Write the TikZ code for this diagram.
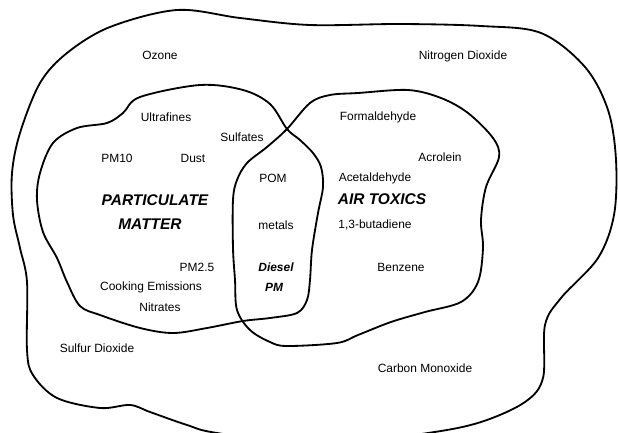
\documentclass[tikz,border=0pt]{standalone}
\usepackage{fontspec}
\setmainfont{Liberation Sans}
\usepackage{tikz}

\begin{document}
\begin{tikzpicture}[x=0.025cm,y=-0.025cm,line join=round,
  blob/.style={line width=1.3pt,black},
  lbl/.style={font=\fontsize{8.5}{10}\selectfont,inner sep=0pt},
  big/.style={font=\fontsize{11}{13}\selectfont\bfseries\itshape,inner sep=0pt},
  dpm/.style={font=\fontsize{8.5}{10}\selectfont\bfseries\itshape,inner sep=0pt}]
\useasboundingbox (0,0) rectangle (618,433);
% outer region
\draw[blob] plot[smooth cycle,tension=0.55] coordinates {
  (177,10) (240,18) (310,25) (400,24) (481,26) (541,33) (585,67) (608,110)
  (616,160) (614,215) (598,258) (561,298) (545,325) (543,378) (525,402)
  (481,422) (428,433) (320,446) (217,433) (187,425) (150,412) (130,405)
  (100,408) (57,398) (33,375) (27,350) (27,282) (20,248) (13,215) (12,173)
  (20,133) (40,83) (67,53) (110,27)};
% particulate matter
\draw[blob] plot[smooth cycle,tension=0.55] coordinates {
  (200,85) (243,90) (270,104) (287,129) (300,140) (313,153) (321,167)
  (323,187) (318,213) (312,250) (310,280) (307,300) (297,313) (270,318)
  (243,321) (207,328) (173,333) (140,328) (100,315) (80,306) (67,282)
  (57,258) (43,232) (37,200) (40,173) (53,143) (77,128) (107,123)
  (123,113) (140,97)};
% air toxics
\draw[blob] plot[smooth cycle,tension=0.55] coordinates {
  (287,129) (310,103) (330,95) (358,93) (408,90) (441,98) (468,113)
  (493,138) (499,157) (486,187) (481,220) (483,248) (478,282) (461,302)
  (425,312) (391,322) (358,335) (337,343) (287,346) (270,342) (250,330)
  (237,310) (235,280) (233,248) (233,200) (237,180) (247,163) (267,147)};
% labels
\node[lbl] (ozone) at (160,55) {Ozone};
\node[lbl] (no2) at (463,56) {Nitrogen Dioxide};
\node[lbl] (ultra) at (166,117) {Ultrafines};
\node[lbl] (sulf) at (242,137) {Sulfates};
\node[lbl] (pm10) at (117,158) {PM10};
\node[lbl] (dust) at (193,158) {Dust};
\node[lbl] (pom) at (273,178) {POM};
\node[big] (partic) at (155,200) {PARTICULATE};
\node[big] (matter) at (150,224) {MATTER};
\node[lbl] (metals) at (276,225) {metals};
\node[lbl] (pm25) at (197,267) {PM2.5};
\node[dpm] (diesel) at (276,267) {Diesel};
\node[lbl] (cook) at (151,287) {Cooking Emissions};
\node[dpm] (dpm) at (274,287) {PM};
\node[lbl] (nitr) at (160,307) {Nitrates};
\node[lbl] (so2) at (97,348) {Sulfur Dioxide};
\node[lbl] (form) at (378,117) {Formaldehyde};
\node[lbl] (acro) at (440,157) {Acrolein};
\node[lbl] (acet) at (375,178) {Acetaldehyde};
\node[big] (airtox) at (382,199) {AIR TOXICS};
\node[lbl] (buta) at (375,225) {1,3-butadiene};
\node[lbl] (benz) at (401,267) {Benzene};
\node[lbl] (co) at (425,368) {Carbon Monoxide};
\end{tikzpicture}
\end{document}
